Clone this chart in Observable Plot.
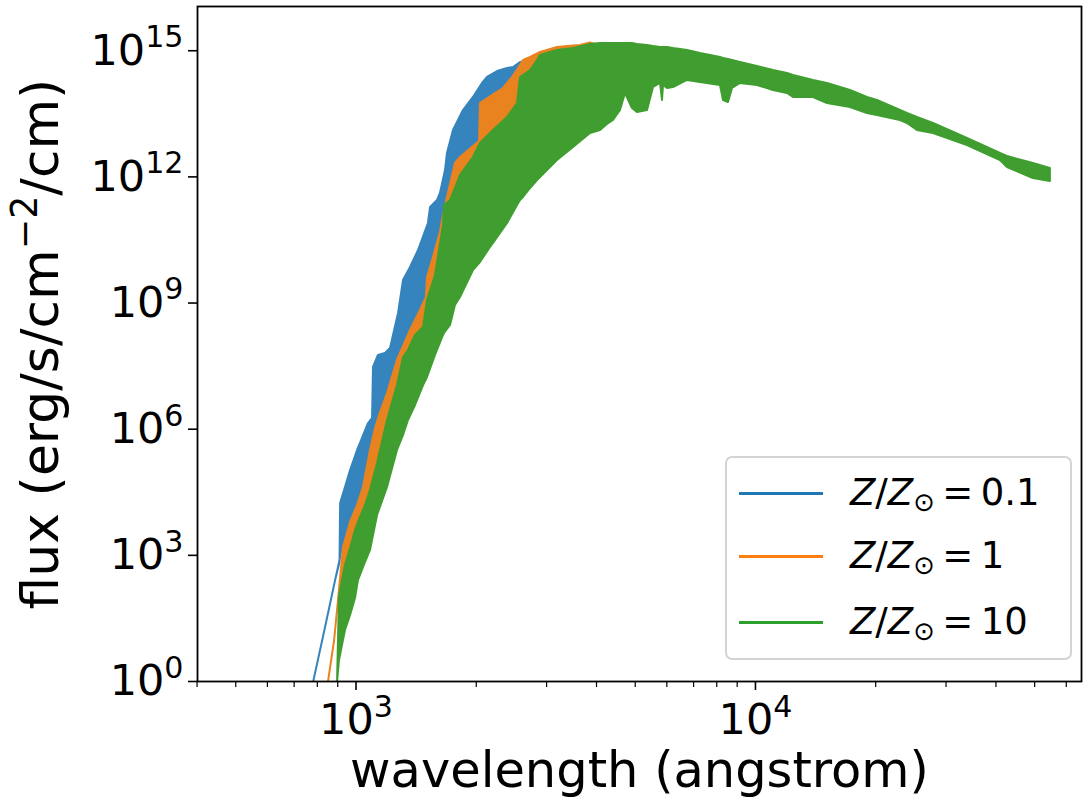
<!DOCTYPE html>
<html><head><meta charset="utf-8">
<script src="https://cdn.jsdelivr.net/npm/d3@7"></script>
<script src="https://cdn.jsdelivr.net/npm/@observablehq/plot@0.6"></script>
<style>
html,body{margin:0;padding:0;background:#fff;}
#wrap{position:relative;width:1083px;height:806px;font-family:"DejaVu Sans";}
#legend{position:absolute;left:725px;top:456px;width:347px;height:204px;border:2px solid #d4d4d4;border-radius:7px;background:rgba(255,255,255,0.8);box-sizing:border-box;}
.sw{position:absolute;left:12px;width:84px;height:3px;margin-top:-1.5px;}
.lab{position:absolute;left:123px;font-size:37px;line-height:1;white-space:nowrap;transform:translateY(-52%);color:#000;}
.lab sub{font-size:70%;vertical-align:-0.25em;line-height:0;}
.lab .eq{margin:0 0.2em;}
</style></head><body><div id="wrap"></div>
<script>
// ---- data (wavelength in angstrom, flux in erg/s/cm^-2/cm), lower/upper envelope of each spectrum ----
const blueWave = [760,783,839,889,912,915,941,969,1009,1026,1075,1100,1106,1138,1185,1220,1278,1315,1369,1434,1518,1537,1600,1627,1675,1694,1754,1858,1968,2073,2134,2261,2395,2479,2581,2735,2847,2981,3251];
const blueHigh = [0.284,0.947,19.2,252,754,17100,41070,104200,311500,457000,1.366e6,1.797e6,2.934e7,5.656e7,6.31e7,8.30e7,5.643e8,3.437e9,7.004e9,1.777e10,7.795e10,1.872e11,2.746e11,4.029e11,1.419e12,3.601e12,1.269e13,3.794e13,7.732e13,1.664e14,2.312e14,3.21e14,3.784e14,3.997e14,5.255e14,5.864e14,7.709e14,8.601e14,9.087e14];
const blueLow  = [0.284,0.947,19.2,252,676,992,2255,3898,13736,23750,180100,409600,538600,931000,2.784e6,4.815e6,1.439e7,2.489e7,5.656e7,1.692e8,5.056e8,6.65e8,1.988e9,5.943e9,3.072e10,5.312e10,1.588e11,4.75e11,1.08e12,2.455e12,4.245e12,7.337e12,1.269e13,2.194e13,3.794e13,6.561e13,1.134e14,1.962e14,2.579e14];

const orangeWave = [844,853,884,909,930,969,1009,1044,1087,1119,1152,1199,1270,1369,1450,1501,1510,1563,1627,1656,1694,1774,1826,1968,2038,2049,2235,2340,2465,2552,2626,2735,2897,3194,3503,3648,3864,3976];
const orangeHigh = [0.373,0.947,9.44,146,1537,6041,15325,41070,311500,1.039e6,2.495e6,7.064e6,4.302e7,2.225e8,6.65e8,1.355e9,4.051e9,1.211e10,4.762e10,1.208e11,3.237e11,2.083e12,2.893e12,5.284e12,6.949e12,5.568e13,9.625e13,1.266e14,2.312e14,3.784e14,5.864e14,6.911e14,9.087e14,1.195e15,1.297e15,1.333e15,1.529e15,1.408e15];
const orangeLow  = [0.373,0.947,9.44,146,252,754,2255,6741,20160,60260,180100,708300,6.33e6,4.302e7,1.286e8,3.846e8,6.65e8,1.988e9,9.21e9,4.04e10,1.588e11,3.611e11,8.21e11,2.199e12,4.245e12,4.245e12,7.337e12,1.269e13,2.447e13,4.99e13,1.492e14,1.962e14,4.457e14,5.864e14,7.709e14,7.709e14,9.087e14,9.087e14];

const greenWave = [886,899,909,941,969,997,1014,1056,1087,1132,1199,1270,1315,1353,1409,1476,1510,1581,1656,1665,1724,1774,1826,1968,2049,2171,2209,2395,2537,2581,2626,2735,2847,2897,3194,3503,3864,4093,4261,4411,4593,4727,4921,5065,5367,5556,5785,5852,5886,6023,6235,6757,7284,8175,8318,8560,8760,9170,10116,11094,12026,12449,13973,15145,17293,19067,20202,23067,24016,25437,27896,33940,41056,42748,49645,54747];
const greenHigh = [0.353,0.947,105,574,1455,3898,6041,15325,34850,152900,1.61e6,1.094e7,5.07e7,7.44e7,1.692e8,2.622e8,1.15e9,4.52e9,6.985e10,2.088e11,2.746e11,5.299e11,1.08e12,2.893e12,6.228e12,1.077e13,1.269e13,2.585e13,5.568e13,2.312e14,2.579e14,3.392e14,5.864e14,7.709e14,1.014e15,1.131e15,1.408e15,1.487e15,1.487e15,1.487e15,1.487e15,1.487e15,1.487e15,1.408e15,1.333e15,1.262e15,1.195e15,1.195e15,1.195e15,1.195e15,1.131e15,1.014e15,8.601e14,6.911e14,6.543e14,6.194e14,5.864e14,5.255e14,4.222e14,3.392e14,2.877e14,2.579e14,1.962e14,1.664e14,1.134e14,7.732e13,6.561e13,3.794e13,3.219e13,2.585e13,1.862e13,8.19e12,3.601e12,3.056e12,2.083e12,1.584e12];
const greenLow  = [0.353,0.947,3.158,16.3,37.1,94.2,252,676,1305,8863,41070,311500,708300,1.61e6,3.661e6,1.094e7,1.696e7,5.656e7,1.692e8,1.887e8,2.925e8,8.74e8,1.355e9,5.943e9,9.21e9,2.094e10,2.607e10,7.795e10,2.088e11,2.746e11,3.237e11,5.299e11,8.21e11,9.67e11,2.455e12,5.002e12,1.077e13,1.269e13,1.763e13,2.194e13,3.794e13,9.625e13,4.233e13,3.401e13,3.794e13,1.337e14,1.664e14,6.561e13,1.492e14,1.266e14,1.337e14,1.962e14,1.758e14,1.492e14,6.561e13,5.881e13,1.266e14,1.664e14,1.492e14,1.134e14,9.625e13,7.732e13,7.732e13,5.568e13,4.472e13,3.219e13,2.885e13,2.194e13,1.862e13,1.269e13,1.077e13,5.581e12,2.455e12,1.673e12,9.16e11,7.77e11];

const seriesLabels = ["0.1", "1", "10"];
const fillColors = ["#3584bd", "#e9831f", "#3f9e2f"];
const lineColors = ["#1f77b4", "#ff7f0e", "#2ca02c"];

const xMajorTicks = [1000, 10000];
const xMajorLabels = ["10^{3}", "10^{4}"];
const xMinorTicks = [400,500,600,700,800,900,2000,3000,4000,5000,6000,7000,8000,9000,20000,30000,40000,50000,60000];
const yTicks = [1, 1e3, 1e6, 1e9, 1e12, 1e15];
const yTickLabels = ["10^{0}","10^{3}","10^{6}","10^{9}","10^{12}","10^{15}"];
const xTitle = "wavelength (angstrom)";
const yTitle = "flux (erg/s/cm^{−2}/cm)";

// ---- build ----
const table = (w, lo, hi) => w.map((d, i) => ({w: d, lo: lo[i], hi: hi[i]}));
const series = [table(blueWave, blueLow, blueHigh), table(orangeWave, orangeLow, orangeHigh), table(greenWave, greenLow, greenHigh)];
const xLab = new Map(xMajorTicks.map((t, i) => [t, xMajorLabels[i]]));
const yLab = new Map(yTicks.map((t, i) => [t, yTickLabels[i]]));

const chart = Plot.plot({
  width: 1083, height: 806,
  marginLeft: 197, marginRight: 2, marginTop: 6, marginBottom: 125,
  x: {type: "log", domain: [401, 65500]},
  y: {type: "log", domain: [1, 1.127e16]},
  style: {fontFamily: "DejaVu Sans", background: "white", color: "black", overflow: "visible"},
  marks: [
    ...series.map((s, k) => Plot.areaY(s, {x: "w", y1: "lo", y2: "hi", fill: fillColors[k], stroke: fillColors[k], strokeWidth: 2, strokeLinejoin: "round", clip: true})),
    Plot.frame({stroke: "#000", strokeWidth: 1.8}),
    Plot.axisX({ticks: xMinorTicks, tickFormat: () => "", tickSize: 6, strokeWidth: 1.2, label: null}),
    Plot.axisX({ticks: xMajorTicks, tickFormat: d => xLab.get(d), tickSize: 9, tickPadding: 13, strokeWidth: 1.6, fontSize: 43, label: null}),
    Plot.axisY({ticks: yTicks, tickFormat: d => yLab.get(d), tickSize: 9, tickPadding: 5, strokeWidth: 1.6, fontSize: 43, label: null}),
    Plot.text([xTitle], {text: d => d, frameAnchor: "bottom", dy: 90, fontSize: 49.5, textAnchor: "middle", lineAnchor: "middle"}),
    Plot.text([yTitle], {text: d => d, frameAnchor: "left", dx: -156, rotate: -90, fontSize: 52, textAnchor: "middle", lineAnchor: "middle"})
  ]
});

// render "^{...}" as real superscript tspans
d3.select(chart).selectAll("text").each(function () {
  const t = this.textContent;
  if (!t.includes("^{")) return;
  const parts = t.split(/\^\{([^}]*)\}/);
  const sel = d3.select(this);
  sel.text(null);
  parts.forEach((p, i) => {
    if (p === "") return;
    if (i % 2 === 1) sel.append("tspan").attr("font-size", "0.7em").attr("dy", "-0.58em").text(p);
    else if (i === 0) sel.append("tspan").text(p);
    else sel.append("tspan").attr("dy", "0.406em").text(p);
  });
});

const wrap = document.getElementById("wrap");
wrap.appendChild(chart);

// legend
const leg = document.createElement("div");
leg.id = "legend";
const rowTops = [35, 98, 164];
seriesLabels.forEach((v, i) => {
  const sw = document.createElement("div");
  sw.className = "sw"; sw.style.top = rowTops[i] + "px"; sw.style.background = lineColors[i];
  leg.appendChild(sw);
  const lb = document.createElement("div");
  lb.className = "lab"; lb.style.top = rowTops[i] + "px";
  lb.innerHTML = `<i>Z</i>/<i>Z</i><sub>⊙</sub><span class="eq">=</span>${v}`;
  leg.appendChild(lb);
});
wrap.appendChild(leg);
</script></body></html>
